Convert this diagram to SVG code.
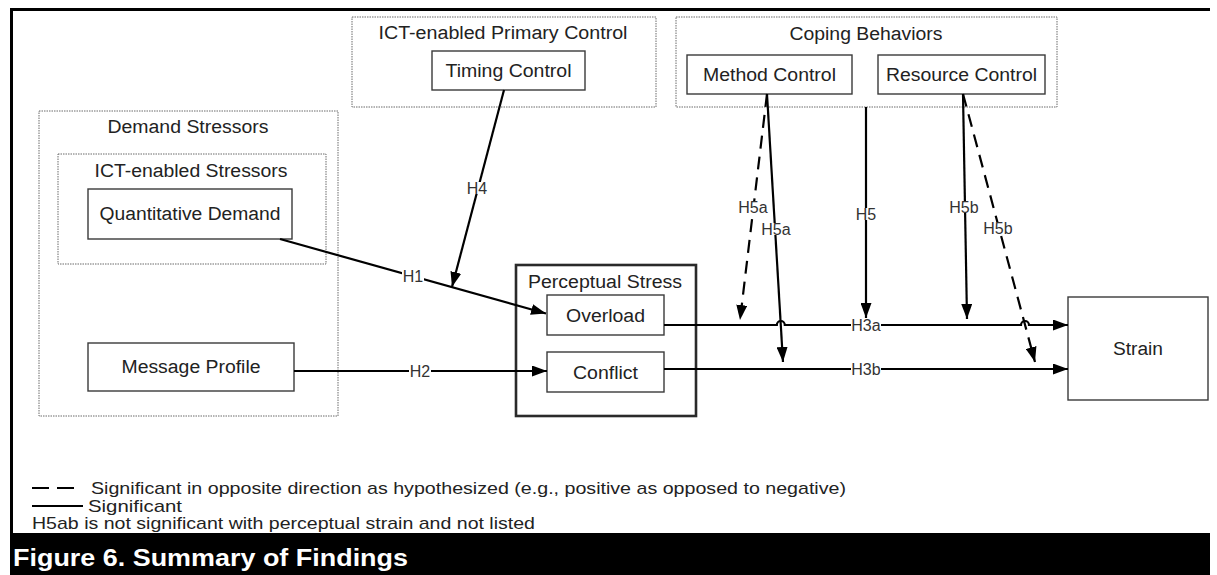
<svg xmlns="http://www.w3.org/2000/svg" width="1217" height="575" viewBox="0 0 1217 575">
  <style>
    .frame { fill: none; stroke: #000; stroke-width: 3; }
    .group { fill: none; stroke: #6a6a6a; stroke-width: 1; stroke-dasharray: 1.5 1; }
    .box { fill: #fff; stroke: #3a3a3a; stroke-width: 1.4; }
    .heavy { fill: #fff; stroke: #2a2a2a; stroke-width: 2.6; }
    .lbl { font-family: "Liberation Sans", Arial, sans-serif; font-size: 18px; fill: #222; text-anchor: middle; }
    .hyp { font-family: "Liberation Sans", Arial, sans-serif; font-size: 16px; fill: #333; text-anchor: middle; }
    .legend { font-family: "Liberation Sans", Arial, sans-serif; font-size: 17px; fill: #222; }
    .title { font-family: "Liberation Sans", Arial, sans-serif; font-size: 23.5px; font-weight: bold; fill: #fff; }
    .edge { fill: none; stroke: #000; stroke-width: 2.2; }
    .dash { stroke-dasharray: 13 8; }
    .knock { fill: #fff; stroke: none; }
  </style>
  <defs>
    <marker id="arrow" markerUnits="userSpaceOnUse" markerWidth="15" markerHeight="11" refX="15" refY="5.5" orient="auto">
      <path d="M0,0 L15,5.5 L0,11 Z" fill="#000"/>
    </marker>
  </defs>

  <rect width="1217" height="575" fill="#fff"/>

  <!-- page frame and caption band -->
  <path class="frame" d="M11.5,533 V9.5 H1210"/>
  <rect x="10" y="533" width="1200" height="42" fill="#000"/>
  <text class="title" x="13" y="566" textLength="395" lengthAdjust="spacingAndGlyphs">Figure 6. Summary of Findings</text>

  <!-- grouping containers -->
  <g id="demand-stressors">
    <rect class="group" x="39" y="111" width="299" height="305"/>
    <text class="lbl" x="188" y="133" textLength="161" lengthAdjust="spacingAndGlyphs">Demand Stressors</text>
  </g>
  <g id="ict-stressors">
    <rect class="group" x="58" y="154" width="268" height="110"/>
    <text class="lbl" x="191" y="177" textLength="193" lengthAdjust="spacingAndGlyphs">ICT-enabled Stressors</text>
  </g>
  <g id="primary-control">
    <rect class="group" x="352" y="17" width="304" height="90"/>
    <text class="lbl" x="503" y="39" textLength="249" lengthAdjust="spacingAndGlyphs">ICT-enabled Primary Control</text>
  </g>
  <g id="coping-behaviors">
    <rect class="group" x="676" y="17" width="381" height="90"/>
    <text class="lbl" x="866" y="40" textLength="153" lengthAdjust="spacingAndGlyphs">Coping Behaviors</text>
  </g>
  <g id="perceptual-stress">
    <rect class="heavy" x="516" y="265" width="180" height="151"/>
    <text class="lbl" x="605" y="288" textLength="154" lengthAdjust="spacingAndGlyphs">Perceptual Stress</text>
  </g>

  <!-- nodes -->
  <g id="quantitative-demand">
    <rect class="box" x="88" y="189" width="204" height="50"/>
    <text class="lbl" x="190" y="220" textLength="181" lengthAdjust="spacingAndGlyphs">Quantitative Demand</text>
  </g>
  <g id="message-profile">
    <rect class="box" x="88" y="343" width="206" height="48"/>
    <text class="lbl" x="191" y="373" textLength="139" lengthAdjust="spacingAndGlyphs">Message Profile</text>
  </g>
  <g id="timing-control">
    <rect class="box" x="432" y="51" width="153" height="39"/>
    <text class="lbl" x="508.5" y="77" textLength="126" lengthAdjust="spacingAndGlyphs">Timing Control</text>
  </g>
  <g id="method-control">
    <rect class="box" x="687" y="55" width="165" height="39"/>
    <text class="lbl" x="769.5" y="81" textLength="133" lengthAdjust="spacingAndGlyphs">Method Control</text>
  </g>
  <g id="resource-control">
    <rect class="box" x="878" y="55" width="167" height="39"/>
    <text class="lbl" x="961.5" y="81" textLength="151" lengthAdjust="spacingAndGlyphs">Resource Control</text>
  </g>
  <g id="overload">
    <rect class="box" x="547" y="295" width="117" height="40"/>
    <text class="lbl" x="605.5" y="321.5" textLength="79" lengthAdjust="spacingAndGlyphs">Overload</text>
  </g>
  <g id="conflict">
    <rect class="box" x="547" y="352" width="117" height="40"/>
    <text class="lbl" x="605.5" y="378.5" textLength="65" lengthAdjust="spacingAndGlyphs">Conflict</text>
  </g>
  <g id="strain">
    <rect class="box" x="1068" y="297" width="140" height="103"/>
    <text class="lbl" x="1138" y="355" textLength="50" lengthAdjust="spacingAndGlyphs">Strain</text>
  </g>

  <!-- connectors -->
  <g id="connectors">
    <path class="edge" d="M280,239 L546,313.5" marker-end="url(#arrow)"/>
    <path class="edge" d="M294,371 H547" marker-end="url(#arrow)"/>
    <path class="edge" d="M504,90 L452,287" marker-end="url(#arrow)"/>
    <path class="edge" d="M664,325 H776.8 a4,4 0 0 1 8,0 H1021 a4,4 0 0 1 8,0 H1068" marker-end="url(#arrow)"/>
    <path class="edge" d="M664,369 H1068" marker-end="url(#arrow)"/>
    <path class="edge" d="M866,107 V318" marker-end="url(#arrow)"/>
    <path class="edge dash" d="M767,94 L740,320" marker-end="url(#arrow)"/>
    <path class="edge" d="M767,94 L783,362" marker-end="url(#arrow)"/>
    <path class="edge" d="M963,94 L967,319" marker-end="url(#arrow)"/>
    <path class="edge dash" d="M963,94 L1035,362" marker-end="url(#arrow)"/>

    <!-- hypothesis labels sit on the lines -->
    <rect class="knock" x="402" y="270" width="22" height="12"/>
    <text class="hyp" x="413" y="281.7">H1</text>
    <rect class="knock" x="409" y="365" width="22" height="12"/>
    <text class="hyp" x="420" y="376.7">H2</text>
    <rect class="knock" x="466" y="182" width="22" height="12"/>
    <text class="hyp" x="477" y="193.7">H4</text>
    <rect class="knock" x="855" y="208" width="22" height="12"/>
    <text class="hyp" x="866" y="219.7">H5</text>
    <rect class="knock" x="738" y="201" width="30" height="12"/>
    <text class="hyp" x="753" y="212.7">H5a</text>
    <rect class="knock" x="761" y="223" width="30" height="12"/>
    <text class="hyp" x="776" y="234.7">H5a</text>
    <rect class="knock" x="949" y="201" width="30" height="12"/>
    <text class="hyp" x="964" y="212.7">H5b</text>
    <rect class="knock" x="983" y="222" width="30" height="12"/>
    <text class="hyp" x="998" y="233.7">H5b</text>
    <rect class="knock" x="851" y="320" width="30" height="11"/>
    <text class="hyp" x="866" y="330.7">H3a</text>
    <rect class="knock" x="851" y="364" width="30" height="11"/>
    <text class="hyp" x="866" y="374.7">H3b</text>
  </g>

  <!-- legend -->
  <g id="legend">
    <path class="edge" d="M32,488 H49 M57,488 H74" stroke-width="2"/>
    <text class="legend" x="91" y="494" textLength="755" lengthAdjust="spacingAndGlyphs">Significant in opposite direction as hypothesized (e.g., positive as opposed to negative)</text>
    <path class="edge" d="M32,506 H83" stroke-width="2"/>
    <text class="legend" x="88" y="512" textLength="94" lengthAdjust="spacingAndGlyphs">Significant</text>
    <text class="legend" x="32" y="529" textLength="503" lengthAdjust="spacingAndGlyphs">H5ab is not significant with perceptual strain and not listed</text>
  </g>
</svg>
